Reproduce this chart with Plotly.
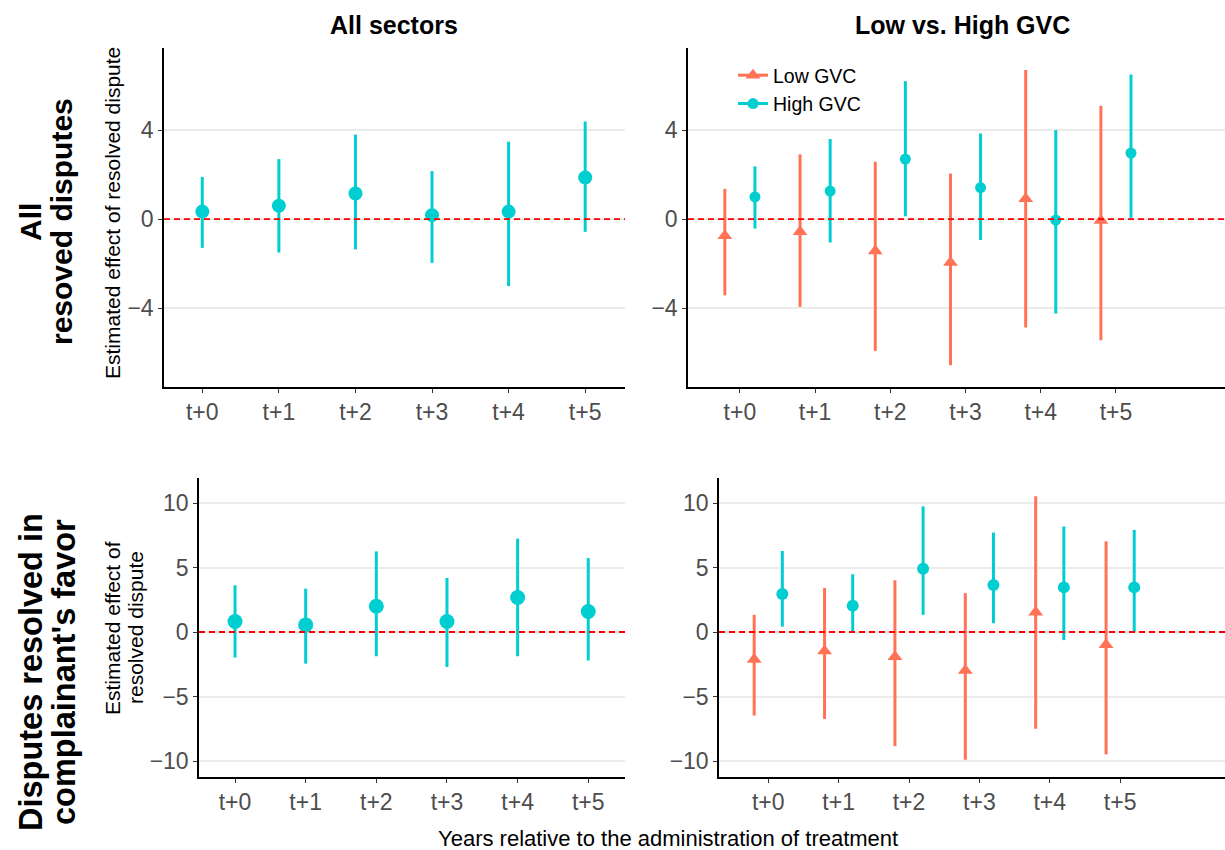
import plotly.graph_objects as go

# ---------------- data ----------------
periods = ["t+0", "t+1", "t+2", "t+3", "t+4", "t+5"]

# Row 1: all resolved disputes
all_est = [0.34, 0.60, 1.15, 0.18, 0.34, 1.87]
all_hi = [1.90, 2.70, 3.80, 2.16, 3.48, 4.39]
all_lo = [-1.29, -1.50, -1.36, -1.96, -3.01, -0.57]

low_est = [-0.75, -0.56, -1.43, -1.95, 0.92, -0.06]
low_hi = [1.36, 2.91, 2.58, 2.05, 6.70, 5.09]
low_lo = [-3.42, -3.94, -5.92, -6.56, -4.87, -5.44]

high_est = [1.00, 1.26, 2.70, 1.42, -0.04, 2.97]
high_hi = [2.37, 3.60, 6.20, 3.85, 4.00, 6.50]
high_lo = [-0.42, -1.05, 0.13, -0.94, -4.24, 0.06]

# Row 2: disputes resolved in complainant's favor
fav_est = [0.81, 0.55, 2.00, 0.81, 2.68, 1.59]
fav_hi = [3.62, 3.36, 6.25, 4.19, 7.24, 5.73]
fav_lo = [-1.98, -2.45, -1.88, -2.71, -1.88, -2.21]

fav_low_est = [-2.14, -1.48, -1.92, -2.99, 1.54, -0.99]
fav_low_hi = [1.33, 3.41, 4.01, 3.02, 10.52, 7.03]
fav_low_lo = [-6.48, -6.74, -8.85, -9.90, -7.50, -9.48]

fav_high_est = [2.94, 2.03, 4.90, 3.65, 3.46, 3.46]
fav_high_hi = [6.28, 4.48, 9.74, 7.71, 8.18, 7.92]
fav_high_lo = [0.42, -0.05, 1.33, 0.68, -0.63, 0.00]

top_ticks = [-4, 0, 4]
bottom_ticks = [-10, -5, 0, 5, 10]

# ---------------- style ----------------
TEAL = "#00CED1"
CORAL = "#FF7256"
FONT = "Liberation Sans, Arial, sans-serif"
W, H = 1225, 850

pos = list(range(1, len(periods) + 1))
dodge = 0.2


def pr_trace(xs, est, hi, lo, color, symbol, size, xa, ya):
    return go.Scatter(
        x=xs, y=est, mode="markers", xaxis=xa, yaxis=ya, showlegend=False,
        marker=dict(color=color, symbol=symbol, size=size, line=dict(width=0)),
        error_y=dict(type="data", symmetric=False,
                     array=[h - e for h, e in zip(hi, est)],
                     arrayminus=[e - l for e, l in zip(est, lo)],
                     color=color, thickness=3, width=0),
        hoverinfo="skip",
    )


fig = go.Figure()
# top-left
fig.add_trace(pr_trace(pos, all_est, all_hi, all_lo, TEAL, "circle", 14, "x", "y"))
# top-right
fig.add_trace(pr_trace([p - dodge for p in pos], low_est, low_hi, low_lo, CORAL, "triangle-up", 13, "x2", "y2"))
fig.add_trace(pr_trace([p + dodge for p in pos], high_est, high_hi, high_lo, TEAL, "circle", 11, "x2", "y2"))
# bottom-left
fig.add_trace(pr_trace(pos, fav_est, fav_hi, fav_lo, TEAL, "circle", 15, "x3", "y3"))
# bottom-right
fig.add_trace(pr_trace([p - dodge for p in pos], fav_low_est, fav_low_hi, fav_low_lo, CORAL, "triangle-up", 13, "x4", "y4"))
fig.add_trace(pr_trace([p + dodge for p in pos], fav_high_est, fav_high_hi, fav_high_lo, TEAL, "circle", 12, "x4", "y4"))

# legend-only entries
fig.add_trace(go.Scatter(x=[None], y=[None], mode="lines+markers", name="Low GVC", xaxis="x2", yaxis="y2",
                         line=dict(color=CORAL, width=3),
                         marker=dict(color=CORAL, symbol="triangle-up", size=13)))
fig.add_trace(go.Scatter(x=[None], y=[None], mode="lines+markers", name="High GVC", xaxis="x2", yaxis="y2",
                         line=dict(color=TEAL, width=3),
                         marker=dict(color=TEAL, symbol="circle", size=11)))


def px_x(a, b):
    return [a / W, b / W]


def px_y(top, bottom):
    return [1 - bottom / H, 1 - top / H]


def xaxis(domain, rng, anchor):
    return dict(domain=domain, range=rng, anchor=anchor, tickvals=pos, ticktext=periods,
                showline=True, linecolor="black", linewidth=1.5, mirror=False,
                ticks="outside", ticklen=4, tickwidth=1.2, tickcolor="#333333",
                showgrid=False, zeroline=False,
                tickfont=dict(family=FONT, size=23, color="#4D4D4D"))


def yaxis(domain, rng, anchor, ticks):
    return dict(domain=domain, range=rng, anchor=anchor, tickvals=ticks,
                showline=True, linecolor="black", linewidth=1.5,
                ticks="outside", ticklen=4, tickwidth=1.2, tickcolor="#333333",
                showgrid=True, gridcolor="#EBEBEB", gridwidth=1.5, zeroline=False,
                tickfont=dict(family=FONT, size=23, color="#4D4D4D"))


top_y = px_y(48, 387)
bot_y = px_y(478, 777)
top_rng = [-7.54, 7.69]
bot_rng = [-11.24, 11.94]

fig.update_layout(
    width=W, height=H,
    margin=dict(l=0, r=0, t=0, b=0),
    paper_bgcolor="white", plot_bgcolor="white",
    font=dict(family=FONT, color="black"),
    xaxis=xaxis(px_x(164, 625), [0.5, 6.52], "y"),
    yaxis=yaxis(top_y, top_rng, "x", top_ticks),
    xaxis2=xaxis(px_x(688, 1225), [0.31, 7.45], "y2"),
    yaxis2=yaxis(top_y, top_rng, "x2", top_ticks),
    xaxis3=xaxis(px_x(199, 625), [0.49, 6.52], "y3"),
    yaxis3=yaxis(bot_y, bot_rng, "x3", bottom_ticks),
    xaxis4=xaxis(px_x(719, 1225), [0.30, 7.49], "y4"),
    yaxis4=yaxis(bot_y, bot_rng, "x4", bottom_ticks),
    legend=dict(x=733 / W, y=1 - 56 / H, xanchor="left", yanchor="top",
                bgcolor="rgba(0,0,0,0)", borderwidth=0,
                font=dict(family=FONT, size=19.5, color="black"),
                tracegroupgap=0, itemwidth=30),
    showlegend=True,
)

# red dashed zero lines
for xr, yr in [("x", "y"), ("x2", "y2"), ("x3", "y3"), ("x4", "y4")]:
    fig.add_shape(type="line", xref=f"{xr} domain", yref=yr, x0=0, x1=1, y0=0, y1=0,
                  line=dict(color="#FF0000", width=1.8, dash="6px,4px"), layer="above")

annots = [
    # column titles
    dict(text="<b>All sectors</b>", x=394 / W, y=1 - 25 / H, size=25, angle=0),
    dict(text="<b>Low vs. High GVC</b>", x=962 / W, y=1 - 25 / H, size=25, angle=0),
    # row labels
    dict(text="<b>All</b>", x=30 / W, y=1 - 222 / H, size=30, angle=-90),
    dict(text="<b>resoved disputes</b>", x=61 / W, y=1 - 222 / H, size=30, angle=-90),
    dict(text="<b>Disputes resolved in</b>", x=31 / W, y=1 - 672 / H, size=32.5, angle=-90),
    dict(text="<b>complainant's favor</b>", x=64 / W, y=1 - 672 / H, size=32.5, angle=-90),
    # y titles
    dict(text="Estimated effect of resolved dispute", x=112 / W, y=1 - 213 / H, size=21, angle=-90),
    dict(text="Estimated effect of", x=112 / W, y=1 - 628 / H, size=21, angle=-90),
    dict(text="resolved dispute", x=135 / W, y=1 - 628 / H, size=21, angle=-90),
    # x title
    dict(text="Years relative to the administration of treatment", x=668 / W, y=1 - 838 / H, size=22, angle=0),
]
for a in annots:
    fig.add_annotation(text=a["text"], x=a["x"], y=a["y"], xref="paper", yref="paper",
                       xanchor="center", yanchor="middle", showarrow=False, textangle=a["angle"],
                       font=dict(family=FONT, size=a["size"], color="black"))

fig.write_html("out.html", config={"displayModeBar": False},
               post_script="document.body.style.margin='0';")
